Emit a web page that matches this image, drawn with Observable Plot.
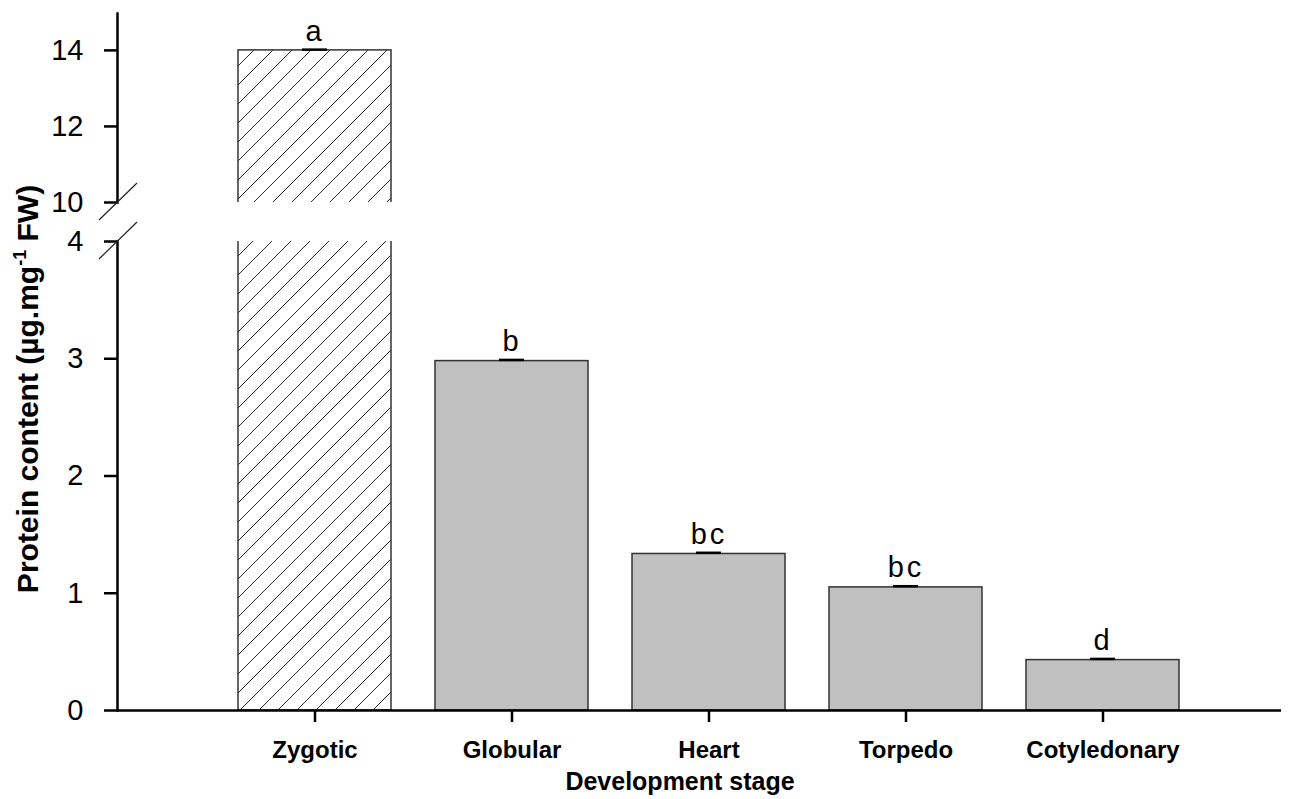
<!DOCTYPE html>
<html><head><meta charset="utf-8">
<script src="https://cdn.jsdelivr.net/npm/d3@7"></script>
<script src="https://cdn.jsdelivr.net/npm/@observablehq/plot@0.6"></script>
<style>
body{margin:0;background:#fff}
#chart{position:relative;width:1289px;height:799px;background:#fff}
#chart svg{position:absolute;left:0;overflow:visible}
g[aria-label="text"] text{letter-spacing:3px}
g[aria-label="y-axis tick label"]{font-size:29px}
</style></head><body><div id="chart"></div>
<script>
const stages = ["Zygotic", "Globular", "Heart", "Torpedo", "Cotyledonary"];
const protein = [14.0, 2.98, 1.335, 1.05, 0.43];
const errors = [0.02, 0.01, 0.01, 0.01, 0.01];
const letters = ["a", "b", "bc", "bc", "d"];
const hatched = ["Zygotic"];
const lowerTicks = [0, 1, 2, 3, 4];
const upperTicks = [10, 12, 14];
const lowerDomain = [0, 4];
const upperDomain = [10, 14.97];
const xTitle = "Development stage";
const yTitleParts = ["Protein content (µg.mg", "-1", " FW)"];

const data = stages.map((s, i) => ({stage: s, value: protein[i], err: errors[i], letter: letters[i], hatched: hatched.includes(s)}));
const font = "Arial, 'Liberation Sans', sans-serif";

const W = 1289, H = 799;
const split = 222; // pixel row where the upper panel ends and the lower one starts

function breakMark(value, offsetTop) {
  return (index, scales, values, dims) => {
    const g = d3.create("svg:g");
    const p = g.append("defs").append("pattern")
      .attr("id", "hatch" + offsetTop).attr("patternUnits", "userSpaceOnUse")
      .attr("width", 19).attr("height", 19).attr("y", -offsetTop);
    p.append("rect").attr("width", 19).attr("height", 19).attr("fill", "white");
    p.append("path").attr("d", "M-1,20L20,-1M-5,5L5,-5M14,24L24,14")
      .attr("stroke", "#2a2a2a").attr("stroke-width", 1);
    const x0 = dims.marginLeft, Y = scales.y(value);
    g.append("line").attr("x1", x0 - 18).attr("y1", Y + 18).attr("x2", x0 + 20).attr("y2", Y - 19)
      .attr("stroke", "#222").attr("stroke-width", 1.2);
    return g.node();
  };
}

function panel({domain, ticks, height, marginTop, marginBottom, offsetTop, bottom}) {
  const inPanel = data.filter(d => d.value + d.err >= domain[0] && d.value + d.err <= domain[1]);
  const withBar = data.filter(d => d.value > domain[0]);
  const marks = [
    Plot.barY(withBar, {x: "stage", y1: 0, y2: "value", clip: true,
      fill: d => d.hatched ? `url(#hatch${offsetTop})` : "#c0c0c0", stroke: "#333", strokeWidth: 1.5}),
    Plot.tickY(inPanel, {x: "stage", y: d => d.value + d.err, stroke: "black", strokeWidth: 2.5, insetLeft: 64, insetRight: 64}),
    Plot.text(inPanel, {x: "stage", y: d => d.value + d.err, text: "letter", dy: -9, lineAnchor: "bottom", fontSize: 29, fill: "black"}),
    Plot.frame({anchor: "left", stroke: "black", strokeWidth: 2.5}),
    Plot.axisY({ticks, tickFormat: d => String(d), tickSize: 13, tickPadding: 21, fontSize: 29, strokeWidth: 2.5, label: null}),
    breakMark(bottom ? domain[1] : domain[0], offsetTop)
  ];
  if (bottom) {
    marks.push(Plot.ruleY([0], {stroke: "black", strokeWidth: 2.5}));
    marks.push(Plot.axisX({tickSize: 12, tickPadding: 18, fontSize: 24, fontWeight: "bold", strokeWidth: 2.5, label: null}));
  } else {
    marks.push(Plot.axisX({ticks: [], label: null}));
  }
  const svg = Plot.plot({
    width: W, height, marginLeft: 117, marginRight: 8, marginTop, marginBottom,
    style: {fontFamily: font, color: "black", background: "transparent", overflow: "visible"},
    x: {domain: stages, range: [237.5, 1178.5], paddingInner: 0.2234, paddingOuter: 0},
    y: {domain, ticks},
    marks
  });
  svg.style.top = offsetTop + "px";
  return svg;
}

const root = document.getElementById("chart");
root.appendChild(panel({domain: upperDomain, ticks: upperTicks, height: split, marginTop: 13, marginBottom: split - 202, offsetTop: 0, bottom: false}));
root.appendChild(panel({domain: lowerDomain, ticks: lowerTicks, height: H - split, marginTop: 241 - split, marginBottom: H - 710, offsetTop: split, bottom: true}));

const titles = d3.select(root).append("svg").attr("width", W).attr("height", H).style("top", "0px").style("pointer-events", "none");
titles.append("text").attr("x", 680).attr("y", 790).attr("text-anchor", "middle")
  .attr("font-size", 25).attr("font-weight", "bold").attr("fill", "black").attr("font-family", font)
  .text(xTitle);
const yt = titles.append("text").attr("transform", "translate(38,389) rotate(-90)").attr("text-anchor", "middle")
  .attr("font-size", 30).attr("font-weight", "bold").attr("fill", "black").attr("font-family", font);
yt.append("tspan").text(yTitleParts[0]);
yt.append("tspan").attr("font-size", 18).attr("dy", -12).text(yTitleParts[1]);
yt.append("tspan").attr("dy", 12).text(yTitleParts[2]);
</script></body></html>
